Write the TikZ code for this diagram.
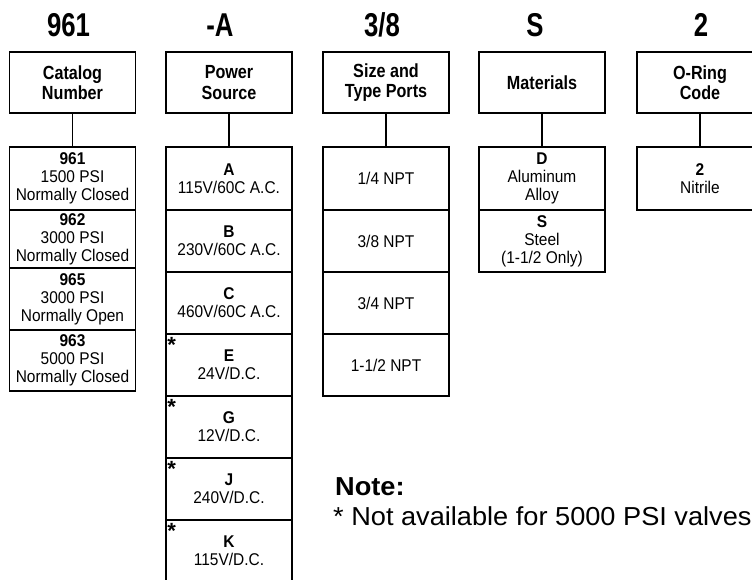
\documentclass[tikz,border=0pt]{standalone}
\usepackage{fontspec}
\setmainfont{Liberation Sans}
\newfontfamily\numfont[FakeStretch=0.78]{Liberation Sans}
\newfontfamily\headfont[FakeStretch=0.85]{Liberation Sans}
\newfontfamily\itemfont[FakeStretch=0.91]{Liberation Sans}
\newfontfamily\notefont[FakeStretch=1.045]{Liberation Sans}
\begin{document}
\begin{tikzpicture}[x=1pt,y=-1pt,
  hdrnum/.style={font=\numfont\bfseries\fontsize{33}{36}\selectfont, inner sep=0, anchor=base},
  hdrbox/.style={draw, line width=1.6pt, minimum width=126pt, minimum height=61pt, inner sep=0, align=center, font=\headfont\bfseries\fontsize{19}{20.5}\selectfont},
  item/.style={draw, line width=1.6pt, minimum width=126pt, inner sep=0, align=center, font=\itemfont\fontsize{17}{18}\selectfont},
  link/.style={line width=1.6pt},
  star/.style={font=\bfseries\fontsize{22}{22}\selectfont, inner sep=0, anchor=north west},
  notehead/.style={font=\notefont\bfseries\fontsize{26}{30}\selectfont, inner sep=0, anchor=base west},
  notebody/.style={font=\notefont\fontsize{26}{30}\selectfont, inner sep=0, anchor=base west}
]
\clip (0,0) rectangle (752,580);
% header numbers
\node[hdrnum] (n1) at (68.5,37) {961};
\node[hdrnum] (n2) at (220,37) {-A};
\node[hdrnum] (n3) at (382,37) {3/8};
\node[hdrnum] (n4) at (535,37) {S};
\node[hdrnum] (n5) at (701,37) {2};
% header boxes
\node[hdrbox] (h1) at (72.5,82.5) {Catalog\\Number};
\node[hdrbox] (h2) at (229,82.5) {Power\\Source};
\node[hdrbox] (h3) at (386,82.5) {Size and\\Type Ports};
\node[hdrbox] (h4) at (542,82.5) {Materials};
\node[hdrbox] (h5) at (700,82.5) {O-Ring\\Code};
% catalog column
\node[item, minimum height=63pt] (c1) at (72.5,178.5) {\textbf{961}\\1500 PSI\\Normally Closed};
\node[item, minimum height=58pt] (c2) at (72.5,239) {\textbf{962}\\3000 PSI\\Normally Closed};
\node[item, minimum height=62pt] (c3) at (72.5,299) {\textbf{965}\\3000 PSI\\Normally Open};
\node[item, minimum height=61pt] (c4) at (72.5,360.5) {\textbf{963}\\5000 PSI\\Normally Closed};
% power column
\node[item, minimum height=63pt] (p1) at (229,178.5) {\textbf{A}\\115V/60C A.C.};
\node[item, minimum height=62pt] (p2) at (229,241) {\textbf{B}\\230V/60C A.C.};
\node[item, minimum height=62pt] (p3) at (229,303) {\textbf{C}\\460V/60C A.C.};
\node[item, minimum height=62pt] (p4) at (229,365) {\textbf{E}\\24V/D.C.};
\node[item, minimum height=62pt] (p5) at (229,427) {\textbf{G}\\12V/D.C.};
\node[item, minimum height=62pt] (p6) at (229,489) {\textbf{J}\\240V/D.C.};
\node[item, minimum height=62pt] (p7) at (229,551) {\textbf{K}\\115V/D.C.};
\node[star] (s4) at ([shift={(2,4)}]p4.north west) {*};
\node[star] (s5) at ([shift={(2,4)}]p5.north west) {*};
\node[star] (s6) at ([shift={(2,4)}]p6.north west) {*};
\node[star] (s7) at ([shift={(2,4)}]p7.north west) {*};
% size column
\node[item, minimum height=63pt] (z1) at (386,178.5) {1/4 NPT};
\node[item, minimum height=62pt] (z2) at (386,241) {3/8 NPT};
\node[item, minimum height=62pt] (z3) at (386,303) {3/4 NPT};
\node[item, minimum height=62pt] (z4) at (386,365) {1-1/2 NPT};
% materials column
\node[item, minimum height=63pt] (m1) at (542,178.5) {\textbf{D}\\Aluminum\\Alloy};
\node[item, minimum height=62pt] (m2) at (542,241) {\textbf{S}\\Steel\\(1-1/2 Only)};
% o-ring column
\node[item, minimum height=63pt] (o1) at (700,178.5) {\textbf{2}\\Nitrile};
% connectors
\draw[link] (h1.south) -- (c1.north);
\draw[link] (h2.south) -- (p1.north);
\draw[link] (h3.south) -- (z1.north);
\draw[link] (h4.south) -- (m1.north);
\draw[link] (h5.south) -- (o1.north);
% note
\node[notehead] (nh) at (335,495) {Note:};
\node[notebody] (nb) at (333,525) {* Not available for 5000 PSI valves};
\end{tikzpicture}
\end{document}
